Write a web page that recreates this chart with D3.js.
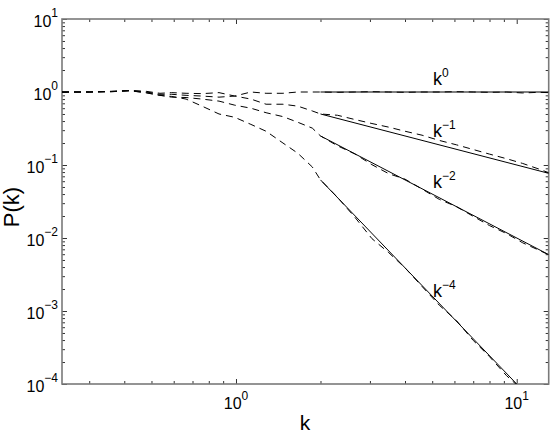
<!DOCTYPE html>
<html>
<head>
<meta charset="utf-8">
<script src="https://cdn.jsdelivr.net/npm/d3@7"></script>
<style>
body{margin:0;background:#fff;}
svg{font-family:"Liberation Sans",Arial,sans-serif;}
</style>
</head>
<body>
<div id="chart"></div>
<script>
// measured spectra (dashed), one k grid shared by the four curves
var kVals  = [0.24, 0.3, 0.36, 0.42, 0.48, 0.536, 0.59, 0.664, 0.757, 0.87, 0.99, 1.13, 1.28, 1.47, 1.66, 1.87, 2.0,
              2.3, 2.65, 3.05, 3.5, 4.0, 4.6, 5.3, 6.1, 7.0, 8.0, 9.2, 10.5, 12, 13];
var pFlat  = [1.0, 1.0, 1.02, 1.05, 1.02, 0.96, 0.98, 0.96, 0.95, 0.98, 0.88, 1.0, 0.96, 0.96, 1.0, 1.0, 1.0,
              0.99, 1.0, 1.01, 1.0, 0.99, 1.0, 1.0, 1.01, 1.0, 0.99, 1.0, 0.97, 0.99, 0.98];
var pSlope1 = [1.0, 1.0, 1.02, 1.05, 1.0, 0.93, 0.93, 0.9, 0.88, 0.85, 0.88, 0.8, 0.68, 0.68, 0.64, 0.55, 0.5,
              0.48, 0.42, 0.37, 0.33, 0.29, 0.256, 0.217, 0.189, 0.163, 0.141, 0.122, 0.105, 0.088, 0.0785];
var pSlope2 = [1.0, 1.0, 1.01, 1.04, 0.98, 0.9, 0.85, 0.84, 0.8, 0.75, 0.66, 0.6, 0.52, 0.46, 0.385, 0.32, 0.25,
              0.183, 0.142, 0.101, 0.076, 0.064, 0.0468, 0.0338, 0.0269, 0.0198, 0.0148, 0.0115, 0.0086, 0.0068, 0.0059];
var pSlope4 = [1.0, 1.0, 1.01, 1.04, 0.97, 0.9, 0.87, 0.8, 0.64, 0.5, 0.45, 0.36, 0.29, 0.2, 0.145, 0.094, 0.0625,
              0.036, 0.0193, 0.0098, 0.0063, 0.0039, 0.00217, 0.0012, 0.00074, 0.000395, 0.000237, 0.00013, 0.0000823, 0.000045, 0.000033];

// power law guides (solid), end points only
var fitK  = [2, 13];
var fit0  = [1, 1];
var fit1  = [0.5, 0.0769];
var fit2  = [0.25, 0.00592];
var fitK4 = [2, 10];
var fit4  = [0.0625, 0.0001];

// annotations k^n
var labelExp = ["0", "\u22121", "\u22122", "\u22124"];
var labelK   = [5.03, 5.03, 5.03, 5.03];
var labelP   = [1.23, 0.24, 0.0483, 0.00157];

var xMajor = [1, 10];
var yMajor = [1e-4, 1e-3, 1e-2, 1e-1, 1, 10];
var xMajorExp = ["0", "1"];
var yMajorExp = ["\u22124", "\u22123", "\u22122", "\u22121", "0", "1"];

var margin = {top: 19, right: 5.3, bottom: 53, left: 62},
	width = 554 - margin.left - margin.right,
	height = 437 - margin.top - margin.bottom;

var x = d3.scaleLog().domain([0.24, 13]).range([0, width]);
var y = d3.scaleLog().domain([1e-4, 10]).range([height, 0]);

var svg = d3.select("#chart").append("svg")
	.attr("width", 554)
	.attr("height", 437)
	.append("g")
	.attr("transform", "translate(" + margin.left + "," + margin.top + ")");

svg.append("clipPath").attr("id", "clip")
	.append("rect").attr("width", width).attr("height", height);

// ticks, inward on all four sides
var xMinor = x.ticks().filter(function(t){ return xMajor.indexOf(t) < 0; });
var yMinor = y.ticks().filter(function(t){ return yMajor.indexOf(t) < 0; });

function ticks(axis, vals, len, tr){
	var g = svg.append("g")
		.attr("transform", tr)
		.call(axis.tickValues(vals).tickSizeInner(-len).tickSizeOuter(0).tickFormat(""));
	g.select(".domain").remove();
	g.selectAll("line").attr("stroke", "#333").attr("stroke-width", 1);
}
ticks(d3.axisBottom(x), xMinor, 3, "translate(0," + height + ")");
ticks(d3.axisBottom(x), xMajor, 5, "translate(0," + height + ")");
ticks(d3.axisTop(x), xMinor, 3, "translate(0,0)");
ticks(d3.axisTop(x), xMajor, 5, "translate(0,0)");
ticks(d3.axisLeft(y), yMinor, 3, "translate(0,0)");
ticks(d3.axisLeft(y), yMajor, 5, "translate(0,0)");
ticks(d3.axisRight(y), yMinor, 3, "translate(" + width + ",0)");
ticks(d3.axisRight(y), yMajor, 5, "translate(" + width + ",0)");

svg.append("rect")
	.attr("width", width)
	.attr("height", height)
	.attr("fill", "none")
	.attr("stroke", "#7a7a7a")
	.attr("stroke-width", 1.6);

// tick labels 10^n
svg.selectAll(".xlab").data(xMajor).enter()
	.append("text")
	.attr("class", "xlab")
	.attr("x", function(d){ return x(d); })
	.attr("y", height + 25)
	.attr("text-anchor", "middle")
	.attr("font-size", 16)
	.text("10")
	.append("tspan")
	.attr("dy", -9)
	.attr("font-size", 12)
	.text(function(d, i){ return xMajorExp[i]; });

svg.selectAll(".ylab").data(yMajor).enter()
	.append("text")
	.attr("class", "ylab")
	.attr("x", -4)
	.attr("y", function(d){ return y(d) + 8; })
	.attr("text-anchor", "end")
	.attr("font-size", 16)
	.text("10")
	.append("tspan")
	.attr("dy", -10)
	.attr("font-size", 12)
	.text(function(d, i){ return yMajorExp[i]; });

svg.append("text")
	.attr("x", 243)
	.attr("y", height + 46)
	.attr("text-anchor", "middle")
	.attr("font-size", 21)
	.text("k");

svg.append("text")
	.attr("text-anchor", "middle")
	.attr("transform", "translate(-43," + 188 + ")rotate(-90)")
	.attr("font-size", 22)
	.text("P(k)");

var line = d3.line()
	.x(function(d){ return x(d[0]); })
	.y(function(d){ return y(d[1]); });

var plot = svg.append("g").attr("clip-path", "url(#clip)");

[pFlat, pSlope1, pSlope2, pSlope4].forEach(function(s){
	plot.append("path")
		.datum(d3.zip(kVals, s))
		.attr("d", line)
		.attr("fill", "none")
		.attr("stroke", "#000")
		.attr("stroke-width", 1)
		.attr("stroke-dasharray", "7,5");
});

[[fitK, fit0], [fitK, fit1], [fitK, fit2], [fitK4, fit4]].forEach(function(f){
	plot.append("path")
		.datum(d3.zip(f[0], f[1]))
		.attr("d", line)
		.attr("fill", "none")
		.attr("stroke", "#000")
		.attr("stroke-width", 1);
});

svg.selectAll(".klab").data(labelExp).enter()
	.append("text")
	.attr("class", "klab")
	.attr("x", function(d, i){ return x(labelK[i]); })
	.attr("y", function(d, i){ return y(labelP[i]); })
	.attr("font-size", 18)
	.text("k")
	.append("tspan")
	.attr("dy", -8)
	.attr("font-size", 12)
	.text(function(d){ return d; });
</script>
</body>
</html>
